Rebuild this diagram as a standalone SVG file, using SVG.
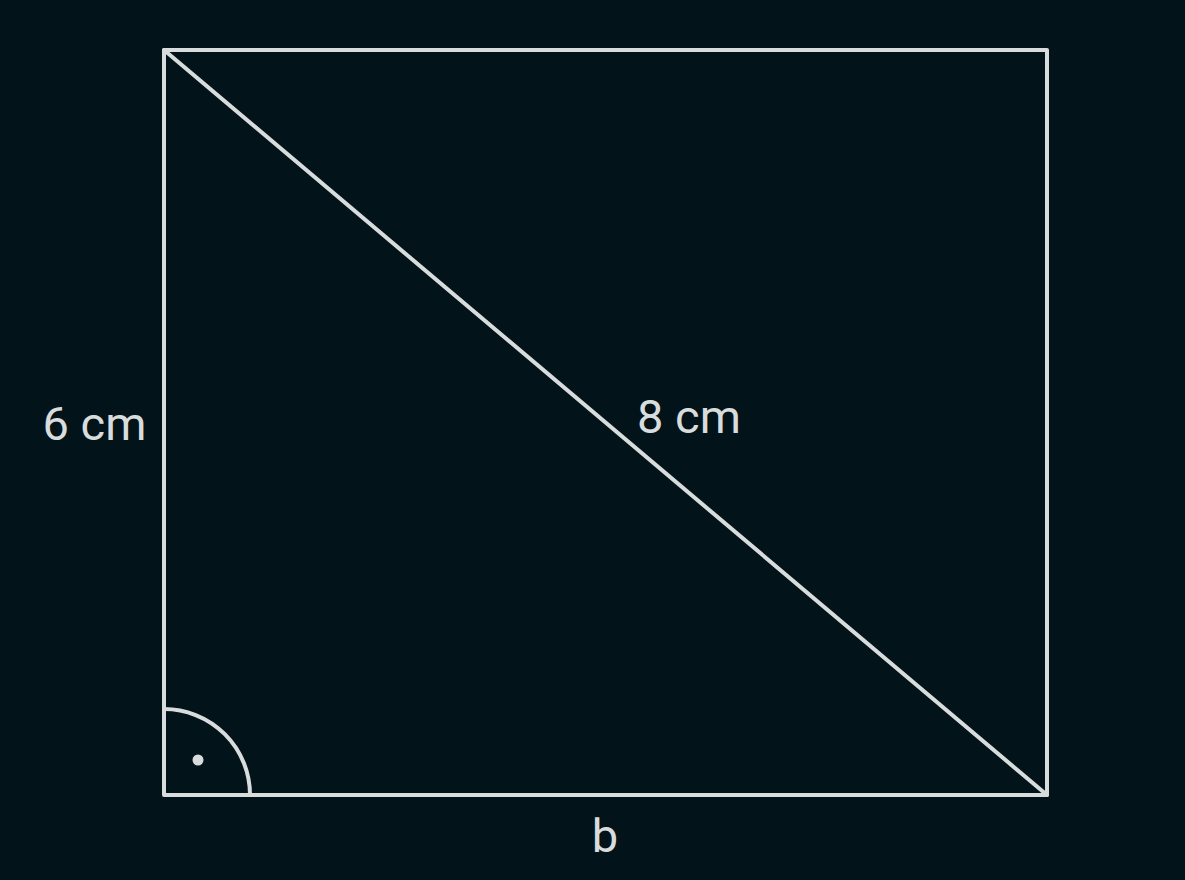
<svg xmlns="http://www.w3.org/2000/svg" width="1185" height="880" viewBox="0 0 1185 880">
<style>
.ln{stroke:#d9dcdc;stroke-width:4;fill:none;stroke-linecap:round;stroke-linejoin:round}
.lb{font-family:Roboto,"Liberation Sans",sans-serif;font-size:47px;fill:#d9dcdc}
</style>
<rect width="1185" height="880" fill="#02141a"/>
<g id="shape">
<rect class="ln" x="164" y="50" width="883" height="745"/>
<line class="ln" x1="164" y1="50" x2="1047" y2="795"/>
<path class="ln" d="M164 709 A86 86 0 0 1 250 795"/>
<circle cx="198" cy="760" r="5.5" fill="#d9dcdc"/>
</g>
<g id="labels">
<text class="lb" x="94.5" y="440" text-anchor="middle">6 cm</text>
<text class="lb" x="689" y="433" text-anchor="middle">8 cm</text>
<text class="lb" x="605" y="852" text-anchor="middle">b</text>
</g>
</svg>
